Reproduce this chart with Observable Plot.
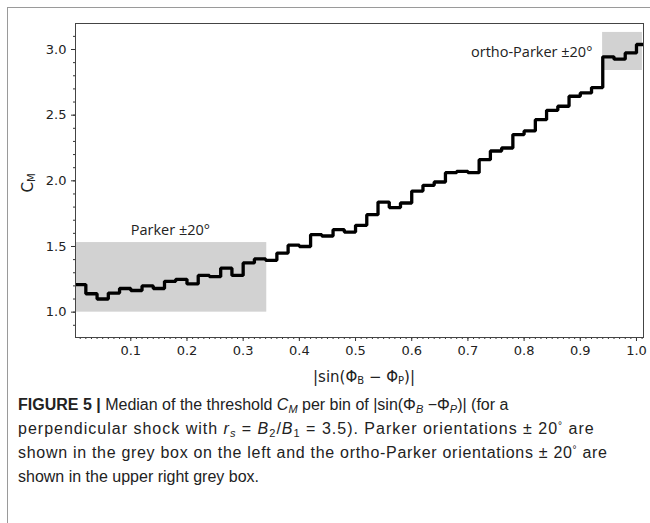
<!DOCTYPE html>
<html>
<head>
<meta charset="utf-8">
<script src="https://cdn.jsdelivr.net/npm/d3@7"></script>
<script src="https://cdn.jsdelivr.net/npm/@observablehq/plot@0.6"></script>
<style>
  body { margin: 0; background: #fff; }
  #fig { position: relative; width: 650px; height: 523px; overflow: hidden; background: #fff; }
  #border { position: absolute; left: 7px; top: 7px; width: 650px; height: 530px; border-top: 1px solid #9a9a9a; border-left: 1px solid #9a9a9a; }
  #chart { position: absolute; left: 0; top: 0; }
  #ylab { position: absolute; left: 28px; top: 183px; transform: translate(-50%, -50%) rotate(-90deg); font-family: "DejaVu Sans"; font-size: 15px; color: #222; white-space: nowrap; line-height: 1; }
  #ylab sub, #xlab sub { font-size: 10px; vertical-align: -2px; line-height: 0; }
  #xlab { position: absolute; left: 364px; top: 377px; transform: translate(-50%, -50%); font-family: "DejaVu Sans"; font-size: 15px; color: #222; white-space: nowrap; line-height: 1; }
  #cap { position: absolute; left: 18px; top: 393px; font-family: "Liberation Sans"; font-size: 16px; color: #222; white-space: nowrap; }
  #cap div { height: 24px; line-height: 24px; }
  #cap sub { font-size: 11px; vertical-align: -3px; line-height: 0; }
  #cap sup { font-size: 10px; vertical-align: 5px; line-height: 0; }
</style>
</head>
<body>
<div id="fig">
  <div id="border"></div>
  <div id="chart"></div>
  <div id="ylab">C<sub>M</sub></div>
  <div id="xlab">|sin(Φ<sub>B</sub> − Φ<sub>P</sub>)|</div>
  <div id="cap">
    <div><b>FIGURE 5 |</b> Median of the threshold <i>C<sub>M</sub></i> per bin of |sin(Φ<sub><i>B</i></sub> −Φ<sub><i>P</i></sub>)| (for a</div>
    <div style="letter-spacing:1.0px">perpendicular shock with <i>r<sub>s</sub></i> = <i>B</i><sub>2</sub>/<i>B</i><sub>1</sub> = 3.5). Parker orientations ± 20<sup>°</sup> are</div>
    <div style="letter-spacing:0.7px">shown in the grey box on the left and the ortho-Parker orientations ± 20<sup>°</sup> are</div>
    <div>shown in the upper right grey box.</div>
  </div>
</div>
<script>
// Bin edges of |sin(ΦB − ΦP)|
const binEdges = [0.00,0.02,0.04,0.06,0.08,0.10,0.12,0.14,0.16,0.18,0.20,0.22,0.24,0.26,0.28,0.30,0.32,0.34,0.36,0.38,0.40,0.42,0.44,0.46,0.48,0.50,0.52,0.54,0.56,0.58,0.60,0.62,0.64,0.66,0.68,0.70,0.72,0.74,0.76,0.78,0.80,0.82,0.84,0.86,0.88,0.90,0.92,0.94,0.96,0.98,1.00,1.02];
// Median C_M per bin
const medianCM = [1.21,1.14,1.10,1.145,1.18,1.165,1.20,1.18,1.235,1.25,1.215,1.28,1.27,1.335,1.28,1.375,1.405,1.395,1.45,1.51,1.50,1.59,1.58,1.628,1.61,1.661,1.742,1.838,1.796,1.831,1.922,1.966,1.991,2.062,2.072,2.062,2.161,2.227,2.25,2.352,2.38,2.466,2.537,2.568,2.644,2.669,2.71,2.944,2.926,2.974,3.038];
// Grey boxes
const boxNames = ["Parker ±20°", "ortho-Parker ±20°"];
const boxX1 = [0.0, 0.9397];
const boxX2 = [0.342, 1.0105];
const boxY1 = [1.0, 2.84];
const boxY2 = [1.53, 3.13];
// Ticks
const xTicks = [0.1,0.2,0.3,0.4,0.5,0.6,0.7,0.8,0.9,1.0];
const yTicks = [1.0,1.5,2.0,2.5,3.0];

const steps = medianCM.map((v, i) => ({x: binEdges[i], y: v}));
steps.push({x: binEdges[binEdges.length - 1], y: medianCM[medianCM.length - 1]});
const boxes = boxNames.map((n, i) => ({name: n, x1: boxX1[i], x2: boxX2[i], y1: boxY1[i], y2: boxY2[i]}));
const minorX = d3.range(1, 102).map(i => i / 100);
const minorY = d3.range(9, 32).map(i => i / 10);

const chart = Plot.plot({
  width: 650,
  height: 390,
  marginLeft: 75,
  marginRight: 7,
  marginTop: 23,
  marginBottom: 53,
  style: {fontFamily: "DejaVu Sans", fontSize: "13px", color: "#222", background: "transparent"},
  x: {domain: [0.0016, 1.0125]},
  y: {domain: [0.807, 3.198]},
  marks: [
    Plot.rect(boxes, {x1: "x1", x2: "x2", y1: "y1", y2: "y2", fill: "#d2d2d2", clip: true}),
    Plot.axisX(minorX, {tickSize: 2, tickFormat: () => "", label: null, stroke: "#333"}),
    Plot.axisX(xTicks, {tickSize: 4, tickPadding: 4, tickFormat: d3.format(".1f"), label: null, stroke: "#333", fontSize: 13}),
    Plot.axisY(minorY, {tickSize: 2, tickFormat: () => "", label: null, stroke: "#333"}),
    Plot.axisY(yTicks, {tickSize: 4, tickPadding: 5, tickFormat: d3.format(".1f"), label: null, stroke: "#333", fontSize: 13}),
    Plot.line(steps, {x: "x", y: "y", curve: "step-after", stroke: "#000", strokeWidth: 3.3, strokeLinejoin: "miter", clip: true}),
    Plot.text([boxNames[0]], {x: 0.1, y: 1.625, text: d => d, textAnchor: "start", fontFamily: "Open Sans", fontSize: 14.5, fill: "#222"}),
    Plot.text([boxNames[1]], {x: 0.9215, y: 2.98, text: d => d, textAnchor: "end", fontFamily: "Open Sans", fontSize: 14.5, fill: "#222"}),
    Plot.frame({stroke: "#444", strokeWidth: 1})
  ]
});
document.getElementById("chart").appendChild(chart);
</script>
</body>
</html>
